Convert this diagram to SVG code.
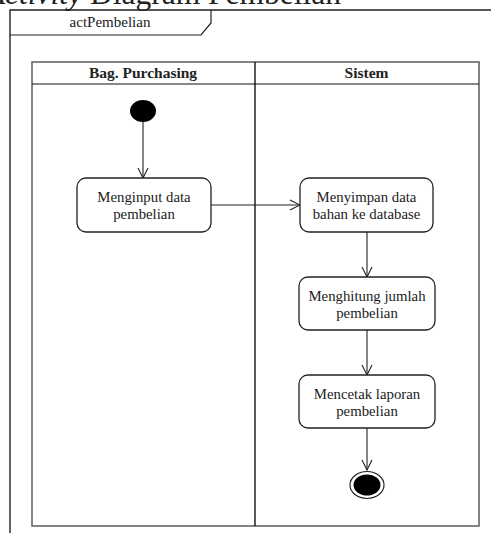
<svg xmlns="http://www.w3.org/2000/svg" width="491" height="533" viewBox="0 0 491 533">
  <style>
    .txt { font-family: "Liberation Serif", "Times New Roman", serif; fill: #222; }
    .act { fill: #fff; stroke: #222; stroke-width: 1.3; }
    .lbl { font-size: 14.8px; text-anchor: middle; }
    .lane { fill: none; stroke: #666; stroke-width: 1.6; }
    .flow { fill: none; stroke: #222; stroke-width: 1.1; }
  </style>
  <defs>
    <marker id="open" viewBox="0 0 12 12" refX="11" refY="6" markerWidth="12" markerHeight="12" markerUnits="userSpaceOnUse" orient="auto">
      <path d="M1,1 L11,6 L1,11" fill="none" stroke="#222" stroke-width="1.1"/>
    </marker>
  </defs>
  <rect width="491" height="533" fill="#fff"/>

  <!-- page heading, partly clipped at the top edge -->
  <text class="txt" x="341" y="4" font-size="31.5" text-anchor="end" fill="#111"><tspan font-style="italic">Activity</tspan> Diagram Pembelian</text>

  <!-- activity frame with name tab -->
  <g id="frame">
    <path d="M10,533 V10 H491" fill="none" stroke="#222" stroke-width="1.4"/>
    <path d="M10,35 H201 L211,23 V10" fill="none" stroke="#222" stroke-width="1.2"/>
    <text class="txt" x="110" y="27" font-size="15" text-anchor="middle">actPembelian</text>
  </g>

  <!-- swimlanes -->
  <g id="lanes">
    <rect class="lane" x="32" y="62" width="447" height="464"/>
    <line x1="32" y1="84" x2="479" y2="84" stroke="#111" stroke-width="1.2"/>
    <line x1="255" y1="62" x2="255" y2="526" stroke="#111" stroke-width="1.4"/>
    <text class="txt" x="143" y="78" font-size="15.5" font-weight="bold" text-anchor="middle">Bag. Purchasing</text>
    <text class="txt" x="366.5" y="78" font-size="15.5" font-weight="bold" text-anchor="middle">Sistem</text>
  </g>

  <g id="connectors">
    <line class="flow" x1="143" y1="122" x2="143" y2="178" marker-end="url(#open)"/>
    <line class="flow" x1="211" y1="205" x2="300" y2="205" marker-end="url(#open)"/>
    <line class="flow" x1="367" y1="232" x2="367" y2="277" marker-end="url(#open)"/>
    <line class="flow" x1="367" y1="330" x2="367" y2="375" marker-end="url(#open)"/>
    <line class="flow" x1="367" y1="428" x2="367" y2="470" marker-end="url(#open)"/>
  </g>

  <g id="start">
    <ellipse cx="143" cy="111" rx="13" ry="11" fill="#000"/>
  </g>

  <g id="inputData">
    <rect class="act" x="77" y="178" width="134" height="54" rx="9"/>
    <text class="txt lbl" x="144" y="202">Menginput data</text>
    <text class="txt lbl" x="144" y="219">pembelian</text>
  </g>

  <g id="simpanData">
    <rect class="act" x="300" y="178" width="133" height="54" rx="9"/>
    <text class="txt lbl" x="366.5" y="202">Menyimpan data</text>
    <text class="txt lbl" x="366.5" y="219">bahan ke database</text>
  </g>

  <g id="hitungJumlah">
    <rect class="act" x="299" y="277" width="136" height="53" rx="9"/>
    <text class="txt lbl" x="367" y="301">Menghitung jumlah</text>
    <text class="txt lbl" x="367" y="318">pembelian</text>
  </g>

  <g id="cetakLaporan">
    <rect class="act" x="299" y="375" width="136" height="53" rx="9"/>
    <text class="txt lbl" x="367" y="399">Mencetak laporan</text>
    <text class="txt lbl" x="367" y="416">pembelian</text>
  </g>

  <g id="end">
    <ellipse cx="367" cy="485" rx="17" ry="13.5" fill="#fff" stroke="#222" stroke-width="1.2"/>
    <ellipse cx="367" cy="485" rx="13.5" ry="10.5" fill="#000"/>
  </g>
</svg>
